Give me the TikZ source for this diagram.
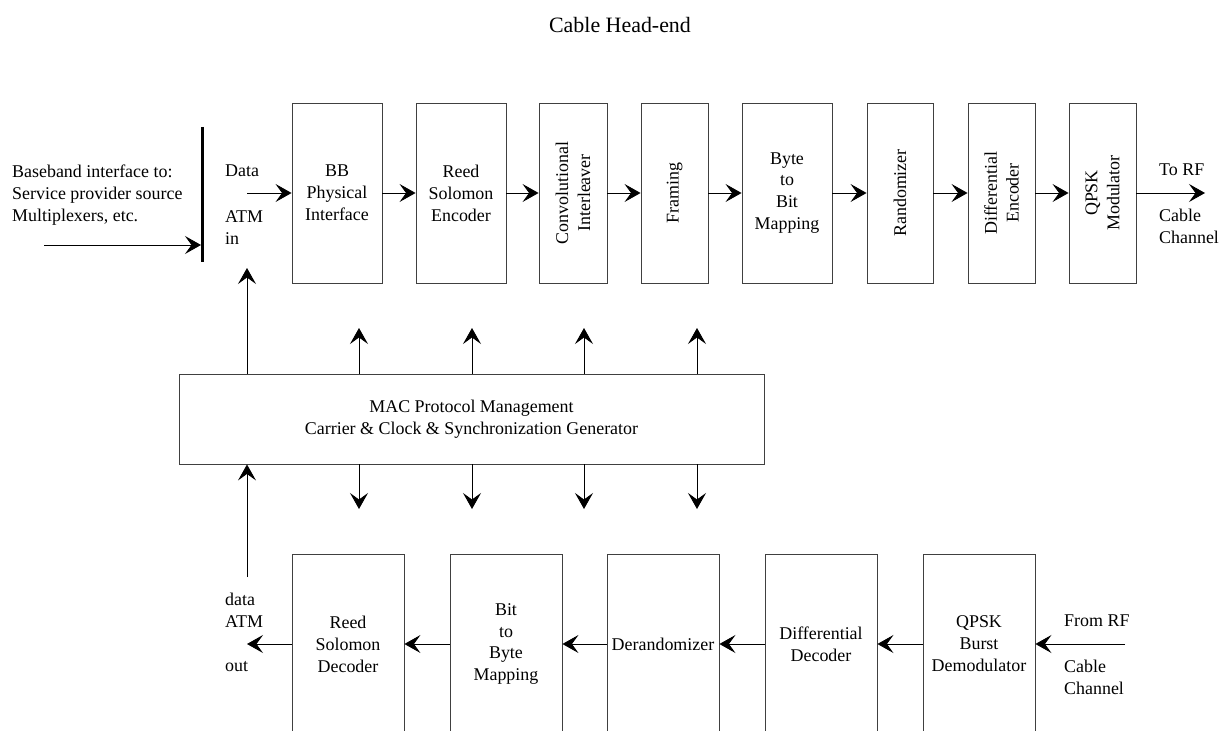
\documentclass[tikz,border=0pt]{standalone}
\usepackage{fontspec}
\setmainfont{Liberation Serif}
\usetikzlibrary{arrows.meta}
\begin{document}
\begin{tikzpicture}[x=1bp,y=-1bp,
  font=\fontsize{18}{22}\selectfont,
  box/.style={draw=black!75, line width=0.9bp, minimum height=180bp, inner sep=0pt, align=center},
  rbox/.style={box, label={[rotate=90,align=center]center:{#1}}},
  arr/.style={line width=0.9bp, -{Stealth[length=16bp,width=18bp,inset=6.5bp]}},
  lbl/.style={align=left, inner sep=0pt, anchor=west}]
\useasboundingbox (0,0) rectangle (1219,731);

% title
\node (title) at (620,25) {\fontsize{22}{26}\selectfont Cable Head-end};

% top chain
\node[box, minimum width=90bp] (bb) at (337,193) {BB\\Physical\\Interface};
\node[box, minimum width=90bp] (rse) at (461,193) {Reed\\Solomon\\Encoder};
\node[rbox={Convolutional\\Interleaver}, minimum width=68bp] (ci) at (573,193) {};
\node[rbox={Framing}, minimum width=67bp] (fr) at (674.5,193) {};
\node[box, minimum width=90bp] (b2b) at (787,193) {Byte\\to\\Bit\\Mapping};
\node[rbox={Randomizer}, minimum width=66bp] (rand) at (900,193) {};
\node[rbox={Differential\\Encoder}, minimum width=67bp] (de) at (1001.5,193) {};
\node[rbox={QPSK\\Modulator}, minimum width=67bp] (qm) at (1102.5,193) {};

\draw[arr] (bb.east) -- (rse.west);
\draw[arr] (rse.east) -- (ci.west);
\draw[arr] (ci.east) -- (fr.west);
\draw[arr] (fr.east) -- (b2b.west);
\draw[arr] (b2b.east) -- (rand.west);
\draw[arr] (rand.east) -- (de.west);
\draw[arr] (de.east) -- (qm.west);

\coordinate (torf) at (1205,193);
\draw[arr] (qm.east) -- (torf);
\node[lbl] (torftxt) at (1159,170) {To RF};
\node[lbl] (cabtxt) at (1159,226.5) {Cable\\Channel};

% left input
\coordinate (bartop) at (202,127);
\coordinate (barbot) at (202,262);
\draw[line width=3bp] (bartop) -- (barbot);
\coordinate (bbin) at (44,245);
\coordinate (barin) at (201,245);
\draw[arr] (bbin) -- (barin);
\node[lbl] (bbtxt) at (12,195.5) {Baseband interface to:\\Service provider source\\Multiplexers, etc.};

\node[lbl] (datatxt) at (225,171) {Data};
\node[lbl] (atmintxt) at (225,227.5) {ATM\\in};
\coordinate (din) at (247,193);
\draw[arr] (din) -- (bb.west);

% MAC
\node[draw=black!75, line width=0.9bp, minimum width=585bp, minimum height=90bp, align=center] (mac) at (471.5,419)
  {MAC Protocol Management\\Carrier \& Clock \& Synchronization Generator};

\coordinate (atmin) at (247,268);
\draw[arr] (mac.north -| atmin) -- (atmin);
\coordinate (atmout) at (247,577);
\draw[arr] (atmout) -- (mac.south -| atmout);

\foreach \i/\x in {1/359,2/472,3/584,4/697}{
  \coordinate (u\i) at (\x,328);
  \coordinate (d\i) at (\x,509);
  \draw[arr] (mac.north -| u\i) -- (u\i);
  \draw[arr] (mac.south -| d\i) -- (d\i);
}

% bottom chain
\node[box, minimum width=112bp] (rsd) at (348,644) {Reed\\Solomon\\Decoder};
\node[box, minimum width=112bp] (btb) at (506,644) {Bit\\to\\Byte\\Mapping};
\node[box, minimum width=112bp] (der) at (663,644) {Derandomizer};
\node[box, minimum width=112bp] (dd) at (821,644) {Differential\\Decoder};
\node[box, minimum width=112bp] (qb) at (979,644) {QPSK\\Burst\\Demodulator};

\draw[arr] (qb.west) -- (dd.east);
\draw[arr] (dd.west) -- (der.east);
\draw[arr] (der.west) -- (btb.east);
\draw[arr] (btb.west) -- (rsd.east);
\coordinate (outend) at (247,644);
\draw[arr] (rsd.west) -- (outend);

\node[lbl] (dataout) at (225,610.5) {data\\ATM};
\node[lbl] (outtxt) at (225,667) {out};

\coordinate (fromrf) at (1125,644);
\draw[arr] (fromrf) -- (qb.east);
\node[lbl] (fromrftxt) at (1064,621) {From RF};
\node[lbl] (cab2txt) at (1064,677.5) {Cable\\Channel};
\end{tikzpicture}
\end{document}
